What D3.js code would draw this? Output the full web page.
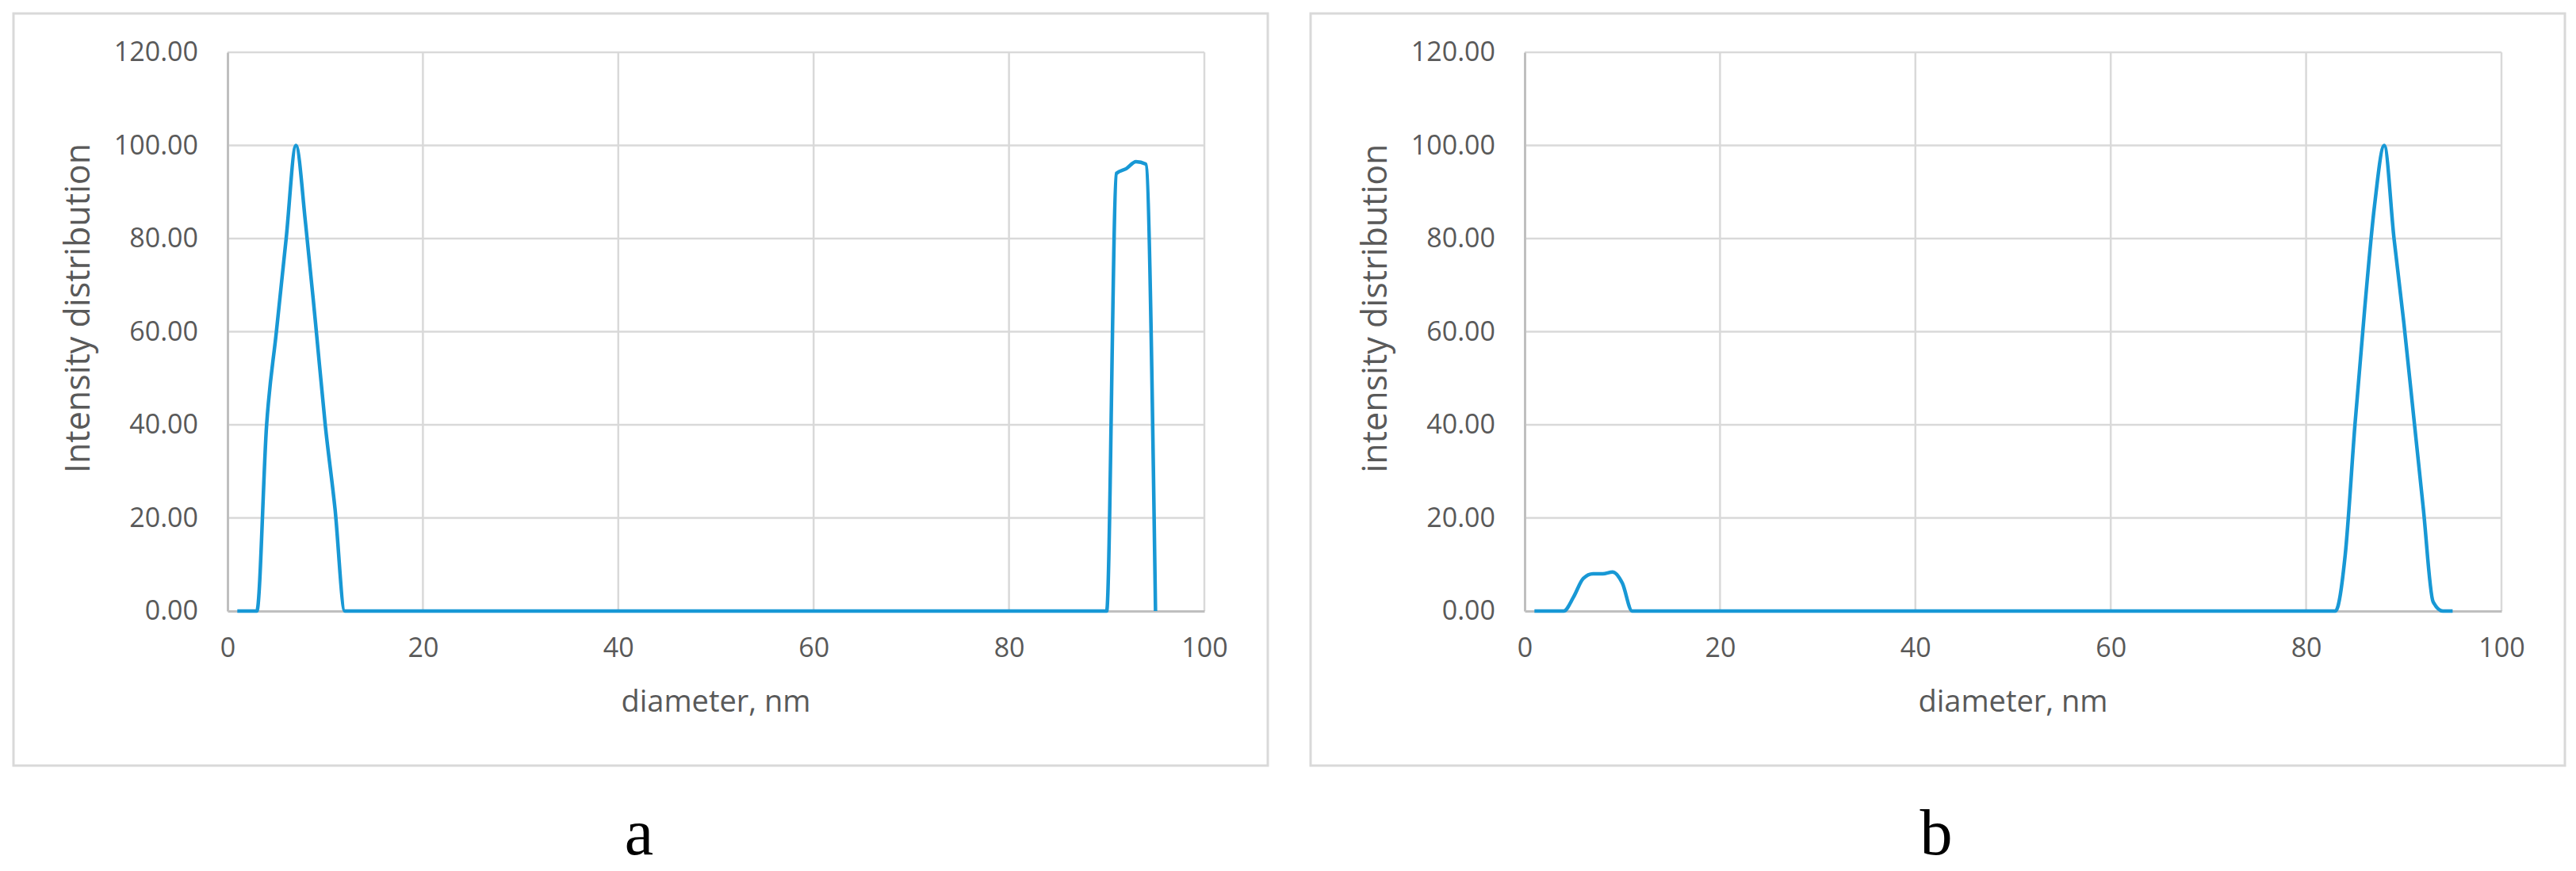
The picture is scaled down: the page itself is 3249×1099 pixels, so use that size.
<!DOCTYPE html>
<html>
<head>
<meta charset="utf-8">
<script src="https://cdn.jsdelivr.net/npm/d3@7"></script>
<style>
  body { margin: 0; background: #fff; }
  .tick text { font-family: "Open Sans", sans-serif; fill: #595959; }
</style>
</head>
<body>
<div id="vis"></div>
<script>

// panel a
var diameterA = [1, 2, 3, 4, 5, 6, 7, 8, 9, 10, 11, 12, 13, 88, 89, 90, 91, 92, 93, 94, 95];
var intensityA = [0, 0, 0, 40, 60, 80, 100, 83, 62, 40, 22, 0, 0, 0, 0, 0, 94, 95, 96.5, 96, 0];

// panel b
var diameterB = [1, 2, 3, 4, 5, 6, 7, 8, 9, 10, 11, 12, 13, 82, 83, 84, 85, 86, 87, 88, 89, 90, 91, 92, 93, 94, 95];
var intensityB = [0, 0, 0, 0, 3, 7, 8, 8, 8.4, 6, 0, 0, 0, 0, 0, 12, 40, 65, 87, 100, 80, 62, 42, 22, 2, 0, 0];

var xTicks = [0, 20, 40, 60, 80, 100];
var yTicks = [0, 20, 40, 60, 80, 100, 120];
var panelLetters = ['a', 'b'];

var width = 3249;
var height = 1099;

var lineColor = '#1898d5';
var gridColor = '#d9d9d9';
var axisColor = '#bfbfbf';
var textColor = '#595959';

var svg = d3.select('#vis').append('svg')
    .attr('width', width)
    .attr('height', height);

svg.append('rect').attr('width', width).attr('height', height).attr('fill', '#fff');

function drawPanel(ox, xs, ys, letter) {

    var left = ox + 270, right = ox + 1502;
    var top = 66, bottom = 771;

    var x = d3.scaleLinear().domain([0, 100]).range([left, right]);
    var y = d3.scaleLinear().domain([0, 120]).range([bottom, top]);

    var g = svg.append('g');

    // outer frame
    g.append('rect')
        .attr('x', ox).attr('y', 17)
        .attr('width', 1582).attr('height', 949)
        .attr('fill', 'none')
        .attr('stroke', gridColor)
        .attr('stroke-width', 3);

    // grid
    g.selectAll('.hgrid').data(yTicks.slice(1)).enter().append('line')
        .attr('x1', left).attr('x2', right)
        .attr('y1', function (d) { return y(d); })
        .attr('y2', function (d) { return y(d); })
        .attr('stroke', gridColor).attr('stroke-width', 2.5);

    g.selectAll('.vgrid').data(xTicks.slice(1)).enter().append('line')
        .attr('x1', function (d) { return x(d); })
        .attr('x2', function (d) { return x(d); })
        .attr('y1', top).attr('y2', bottom)
        .attr('stroke', gridColor).attr('stroke-width', 2.5);

    // axes
    var yAxis = d3.axisLeft(y).tickValues(yTicks).tickSize(0).tickPadding(37)
        .tickFormat(d3.format('.2f'));
    var xAxis = d3.axisBottom(x).tickValues(xTicks).tickSize(0).tickPadding(34);

    var ya = g.append('g').attr('transform', 'translate(' + left + ',0)').call(yAxis);
    var xa = g.append('g').attr('transform', 'translate(0,' + bottom + ')').call(xAxis);

    [ya, xa].forEach(function (a) {
        a.select('.domain').attr('stroke', axisColor).attr('stroke-width', 3);
        a.selectAll('.tick text').attr('font-size', 34).attr('fill', textColor);
    });

    // titles
    g.append('text')
        .attr('transform', 'translate(' + (ox + 96) + ',389) rotate(-90)')
        .attr('text-anchor', 'middle')
        .attr('font-family', 'Open Sans, sans-serif')
        .attr('font-size', 43)
        .attr('fill', textColor)
        .text(letter === 'a' ? 'Intensity distribution' : 'intensity distribution');

    g.append('text')
        .attr('x', (left + right) / 2)
        .attr('y', 898)
        .attr('text-anchor', 'middle')
        .attr('font-family', 'Open Sans, sans-serif')
        .attr('font-size', 38)
        .attr('fill', textColor)
        .text('diameter, nm');

    var pts = xs.map(function (d, i) { return [d, ys[i]]; });

    var line = d3.line()
        .x(function (d) { return x(d[0]); })
        .y(function (d) { return y(d[1]); })
        .curve(d3.curveMonotoneX);

    g.append('path')
        .datum(pts)
        .attr('d', line)
        .attr('fill', 'none')
        .attr('stroke', lineColor)
        .attr('stroke-width', 4.5)
        .attr('stroke-linejoin', 'round');

    // panel letter
    g.append('text')
        .attr('x', ox + 789)
        .attr('y', 1078)
        .attr('text-anchor', 'middle')
        .attr('font-family', 'Liberation Serif, serif')
        .attr('font-size', 82)
        .attr('fill', '#000')
        .text(letter);
}

drawPanel(17, diameterA, intensityA, panelLetters[0]);
drawPanel(1653, diameterB, intensityB, panelLetters[1]);

</script>
</body>
</html>
